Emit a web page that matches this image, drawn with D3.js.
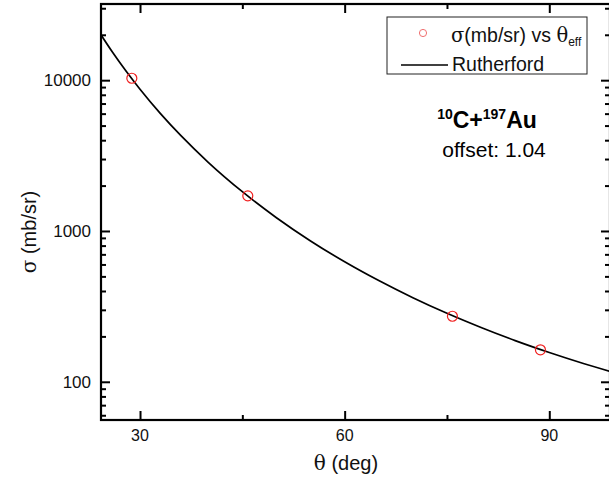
<!DOCTYPE html>
<html><head><meta charset="utf-8">
<script src="https://cdn.jsdelivr.net/npm/d3@7"></script>
<style>body{margin:0;background:#fff}svg{display:block}text{font-family:"Liberation Sans",Arial,sans-serif}</style>
</head><body>
<script>
// Data
const dataTheta = [28.8, 45.8, 75.8, 88.7];
const dataSigma = [10300, 1710, 272, 163];
const curveTheta = [24, 26, 28, 30, 33, 36, 40, 45, 50, 55, 60, 65, 70, 75, 80, 85, 90, 95, 100];
const curveSigma = [20900, 15260, 11410, 8710, 6000, 4285, 2855, 1822, 1225, 859, 625, 469, 361, 284.5, 229, 187.5, 156.3, 132.2, 113.5];
const xTicks = [30, 60, 90];
const xMinorTicks = [45, 75];
const yTicks = [100, 1000, 10000];
const yTickLabels = ["100", "1000", "10000"];

(function () {
const W = 609, H = 477;
const svg = d3.select("body").append("svg").attr("width", W).attr("height", H);
const pL = 101, pR = 610, pT = 4, pB = 420;
const x = d3.scaleLinear().domain([24.28, 98.9]).range([pL, pR]);
const y = d3.scaleLog().domain([55.8, 32000]).range([pB, pT]);

// minor y ticks
const yMinor = [];
for (let d = 10; d <= 10000; d *= 10) for (let k = 2; k <= 9; k++) { const v = k * d; if (v >= 55.8 && v <= 32000) yMinor.push(v); }

// Left axis
const gL = svg.append("g").attr("transform", `translate(${pL},0)`);
gL.call(d3.axisRight(y).tickValues(yTicks).tickFormat("").tickSizeInner(9).tickSizeOuter(0));
gL.append("g").call(d3.axisRight(y).tickValues(yMinor).tickFormat("").tickSizeInner(5).tickSizeOuter(0));
gL.selectAll("line").attr("stroke", "#000").attr("stroke-width", 2);
gL.selectAll(".domain").remove();
// Right axis ticks
const gR = svg.append("g").attr("transform", `translate(${pR},0)`);
gR.call(d3.axisLeft(y).tickValues(yTicks).tickFormat("").tickSizeInner(9).tickSizeOuter(0));
gR.append("g").call(d3.axisLeft(y).tickValues(yMinor).tickFormat("").tickSizeInner(5).tickSizeOuter(0));
gR.selectAll("line").attr("stroke", "#000").attr("stroke-width", 2);
gR.selectAll(".domain").remove();
// y labels
svg.append("g").selectAll("text").data(yTicks).join("text")
  .attr("x", 91).attr("y", d => y(d)).attr("dy", "0.36em").attr("text-anchor", "end")
  .attr("font-size", 17).attr("fill", "#111").text((d, i) => yTickLabels[i]);

// Bottom axis
const gB = svg.append("g").attr("transform", `translate(0,${pB})`);
gB.call(d3.axisTop(x).tickValues(xTicks).tickFormat("").tickSizeInner(9).tickSizeOuter(0));
gB.append("g").call(d3.axisTop(x).tickValues(xMinorTicks).tickFormat("").tickSizeInner(5).tickSizeOuter(0));
gB.selectAll("line").attr("stroke", "#000").attr("stroke-width", 2);
gB.selectAll(".domain").remove();
svg.append("g").selectAll("text").data(xTicks).join("text")
  .attr("x", d => x(d)).attr("y", 441).attr("text-anchor", "middle")
  .attr("font-size", 16).attr("fill", "#111").text(d => d);
// Top axis
const gT = svg.append("g").attr("transform", `translate(0,${pT})`);
gT.call(d3.axisBottom(x).tickValues(xTicks).tickFormat("").tickSizeInner(9).tickSizeOuter(0));
gT.append("g").call(d3.axisBottom(x).tickValues(xMinorTicks).tickFormat("").tickSizeInner(5).tickSizeOuter(0));
gT.selectAll("line").attr("stroke", "#000").attr("stroke-width", 2);
gT.selectAll(".domain").remove();

// frame
svg.append("rect").attr("x", pL).attr("y", pT).attr("width", pR - pL).attr("height", pB - pT)
  .attr("fill", "none").attr("stroke", "#000").attr("stroke-width", 2.2);

// clip
svg.append("clipPath").attr("id", "clip").append("rect").attr("x", pL).attr("y", pT).attr("width", pR - pL).attr("height", pB - pT);

// Curve
const line = d3.line().x(d => x(d[0])).y(d => y(d[1])).curve(d3.curveMonotoneX);
svg.append("path").datum(curveTheta.map((t, i) => [t, curveSigma[i]]))
  .attr("clip-path", "url(#clip)")
  .attr("d", line).attr("fill", "none").attr("stroke", "#000").attr("stroke-width", 1.7);

// Points
svg.append("g").selectAll("circle").data(dataTheta.map((t, i) => [t, dataSigma[i]])).join("circle")
  .attr("cx", d => x(d[0])).attr("cy", d => y(d[1])).attr("r", 5)
  .attr("fill", "none").attr("stroke", "#f02020").attr("stroke-width", 1.2);

// Legend
const lg = svg.append("g");
lg.append("rect").attr("x", 387).attr("y", 17).attr("width", 200).attr("height", 57)
  .attr("fill", "#fff").attr("stroke", "#222").attr("stroke-width", 1);
lg.append("circle").attr("cx", 423).attr("cy", 33).attr("r", 3.6).attr("fill", "none").attr("stroke", "#f07070").attr("stroke-width", 1);
const t1 = lg.append("text").attr("x", 451).attr("y", 42).attr("font-size", 19.5).attr("fill", "#111");
t1.append("tspan").attr("font-family", "DejaVu Serif, serif").text("σ");
t1.append("tspan").text("(mb/sr) vs ");
t1.append("tspan").attr("font-family", "DejaVu Serif, serif").text("θ");
t1.append("tspan").attr("font-size", 12).attr("dy", 4).text("eff");
lg.append("line").attr("x1", 401).attr("x2", 448).attr("y1", 65).attr("y2", 65).attr("stroke", "#000").attr("stroke-width", 1.3);
lg.append("text").attr("x", 452).attr("y", 71).attr("font-size", 19.5).attr("fill", "#111").text("Rutherford");

// Annotation
const an = svg.append("text").attr("x", 487).attr("y", 128).attr("text-anchor", "middle")
  .attr("font-size", 23).attr("font-weight", "bold").attr("fill", "#000");
an.append("tspan").attr("font-size", 14).attr("dy", -9).text("10");
an.append("tspan").attr("dy", 9).text("C+");
an.append("tspan").attr("font-size", 14).attr("dy", -9).text("197");
an.append("tspan").attr("dy", 9).text("Au");
svg.append("text").attr("x", 494).attr("y", 157).attr("text-anchor", "middle")
  .attr("font-size", 21).attr("fill", "#000").text("offset: 1.04");

// Axis titles
const xt = svg.append("text").attr("x", 346).attr("y", 470).attr("text-anchor", "middle").attr("font-size", 20).attr("fill", "#111");
xt.append("tspan").attr("font-family", "DejaVu Serif, serif").text("θ");
xt.append("tspan").text(" (deg)");
const yt = svg.append("text").attr("transform", "translate(36,232) rotate(-90)").attr("text-anchor", "middle").attr("font-size", 20).attr("fill", "#111");
yt.append("tspan").attr("font-family", "DejaVu Serif, serif").text("σ");
yt.append("tspan").text(" (mb/sr)");
})();
</script>
</body></html>
